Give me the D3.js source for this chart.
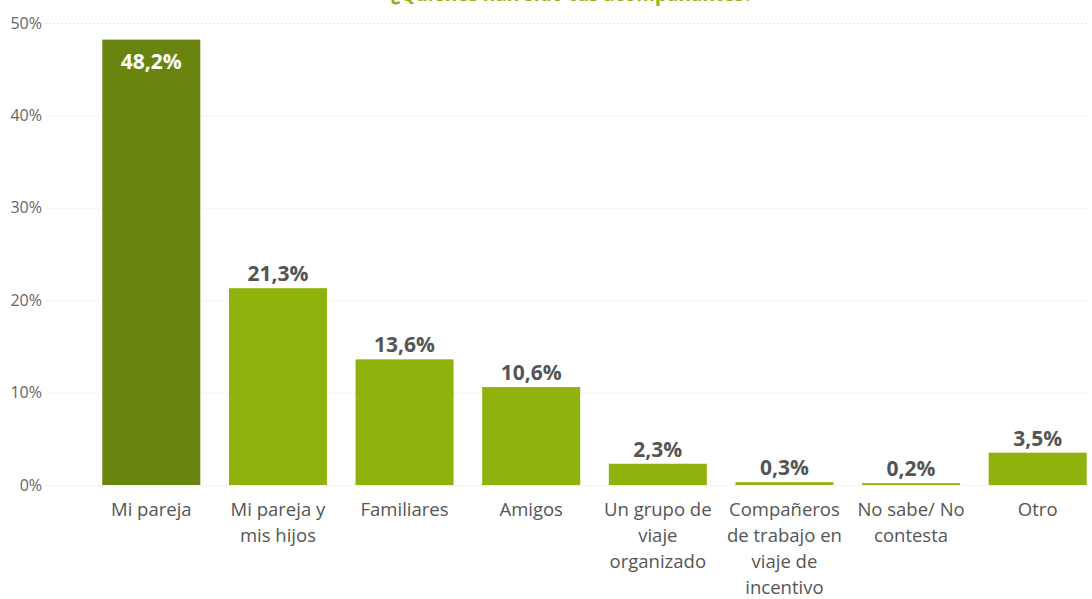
<!DOCTYPE html>
<html>
<head>
<meta charset="utf-8">
<script src="https://cdn.jsdelivr.net/npm/d3@7"></script>
<style>
  body { margin: 0; background: #fff; }
  svg { display: block; font-family: "Open Sans", "Noto Sans", sans-serif; }
</style>
</head>
<body>
<svg id="chart" width="1092" height="599"></svg>
<script>
const title = "¿Quiénes han sido tus acompañantes?"
const categories = [
  ["Mi pareja"],
  ["Mi pareja y", "mis hijos"],
  ["Familiares"],
  ["Amigos"],
  ["Un grupo de", "viaje", "organizado"],
  ["Compañeros", "de trabajo en", "viaje de", "incentivo"],
  ["No sabe/ No", "contesta"],
  ["Otro"]
]
const values = [48.2, 21.3, 13.6, 10.6, 2.3, 0.3, 0.2, 3.5]
const yTicks = [0, 10, 20, 30, 40, 50]

const width = 1092, height = 599
const margin = { top: 23, right: 0, bottom: 114, left: 88 }
const svg = d3.select('#chart')

let x = d3.scaleBand()
  .domain(d3.range(values.length))
  .range([margin.left, 1101])
  .paddingInner(0.226)
  .paddingOuter(0.113)

let y = d3.scaleLinear()
  .domain([0, 50])
  .range([height - margin.bottom, margin.top])

let fmt = v => v.toFixed(1).replace('.', ',') + '%'

// title, cropped off the top like in the source picture
svg.append('text')
  .attr('x', 572)
  .attr('y', 1)
  .attr('text-anchor', 'middle')
  .style('font-size', '19px')
  .style('font-weight', 'bold')
  .style('fill', '#8db50f')
  .text(title)

// grid + y labels
let grid = svg.append('g')
grid.selectAll('line')
  .data(yTicks)
  .enter().append('line')
  .attr('x1', 46).attr('x2', 1090)
  .attr('y1', d => y(d) + 0.5).attr('y2', d => y(d) + 0.5)
  .attr('stroke', '#d4d4d4')
  .attr('stroke-dasharray', '1,3')

grid.selectAll('text')
  .data(yTicks)
  .enter().append('text')
  .attr('x', 42)
  .attr('y', d => y(d))
  .attr('dy', '0.35em')
  .attr('text-anchor', 'end')
  .style('font-size', '16px')
  .style('fill', '#666')
  .text(d => d + '%')

// bars
let color = i => i === 0 ? '#6a850f' : '#8fb30c'
svg.append('g').selectAll('rect')
  .data(values)
  .enter().append('rect')
  .attr('x', (d, i) => x(i))
  .attr('width', x.bandwidth())
  .attr('y', d => y(d))
  .attr('height', d => Math.max(y(0) - y(d), 1))
  .attr('fill', (d, i) => color(i))

// value labels
svg.append('g').selectAll('text')
  .data(values)
  .enter().append('text')
  .attr('x', (d, i) => x(i) + x.bandwidth() / 2)
  .attr('y', (d, i) => i === 0 ? y(d) + 29 : y(d) - 7)
  .attr('text-anchor', 'middle')
  .style('font-size', '21px')
  .style('font-weight', 'bold')
  .style('fill', (d, i) => i === 0 ? '#fff' : '#555')
  .text(d => fmt(d))

// category labels
let cats = svg.append('g').selectAll('text')
  .data(categories)
  .enter().append('text')
  .attr('x', (d, i) => x(i) + x.bandwidth() / 2)
  .attr('y', 516)
  .attr('text-anchor', 'middle')
  .style('font-size', '18.5px')
  .style('fill', '#555')

cats.selectAll('tspan')
  .data(d => d)
  .enter().append('tspan')
  .attr('x', function () { return d3.select(this.parentNode).attr('x') })
  .attr('dy', (d, i) => i === 0 ? 0 : 26)
  .text(d => d)
</script>
</body>
</html>
